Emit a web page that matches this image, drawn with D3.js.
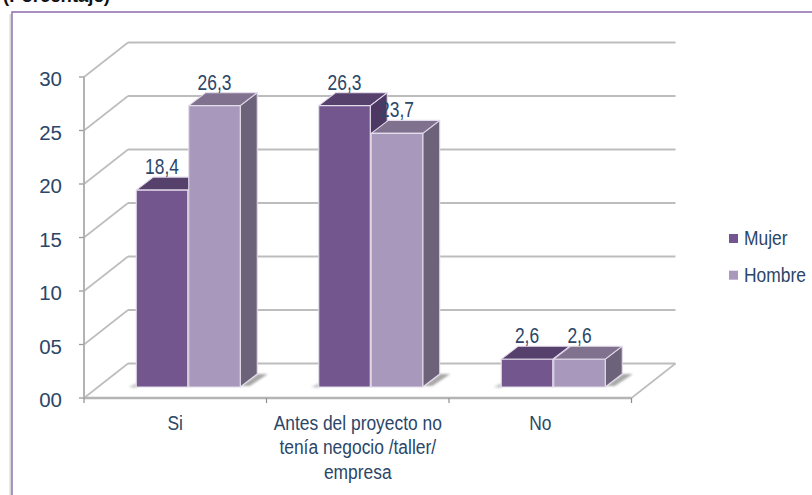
<!DOCTYPE html>
<html><head><meta charset="utf-8"><script src="https://cdn.jsdelivr.net/npm/d3@7"></script>
<style>html,body{margin:0;background:#fff}svg{display:block}</style></head><body>
<svg id="c" width="812" height="495"></svg>
<script>
const categories=[["Si"],["Antes del proyecto no","tenía negocio /taller/","empresa"],["No"]];
const catKeys=["Si","Antes","No"];
const seriesNames=["Mujer","Hombre"];
const mujer=[18.4,26.3,2.6];
const hombre=[26.3,23.7,2.6];
const yTicks=[0,5,10,15,20,25,30];
const yLabels=["00","05","10","15","20","25","30"];
const front=["#73568e","#a898bc"],top_=["#573f6c","#80728f"],side=["#4d3763","#6c627a"];
const textCol="#2b4668",sans="'Liberation Sans',Arial,sans-serif";
const svg=d3.select("#c");
const defs=svg.append("defs");
defs.append("filter").attr("id","soft").append("feGaussianBlur").attr("stdDeviation",0.45);
defs.append("filter").attr("id","sh").append("feGaussianBlur").attr("stdDeviation",1.2);
const y=d3.scaleLinear().domain([0,30]).range([398,77]);
const x=d3.scaleBand().domain(catKeys).range([84,631.5]);
const backDx=44,backDy=-34.5;
const barW=51.5,barDx=17,barDy=-13,baseLift=11,groupShift=13;
// horizontally condensed text helper
function label(px,py,str,size,sx,anchor){
  return svg.append("text").attr("transform",`translate(${px},${py}) scale(${sx},1)`).attr("text-anchor",anchor||"middle")
    .attr("font-family",sans).attr("font-size",size).attr("fill",textCol).text(str);
}
// title + frame
svg.append("text").attr("x",3).attr("y",2).attr("font-family",sans).attr("font-weight","bold").attr("font-size",18.5).attr("fill","#111").text("(Porcentaje)");
svg.append("path").attr("d","M10.5 495V14").attr("stroke","#d8d8d8").attr("stroke-width",2).attr("fill","none");
svg.append("path").attr("d","M12 495V12H812").attr("stroke","#8a6cab").attr("stroke-width",1.4).attr("fill","none");
const g=svg.append("g").attr("filter","url(#soft)");
const grid="#bdbdbd";
// walls
yTicks.forEach(t=>{
  const yy=y(t);
  g.append("line").attr("x1",x.range()[0]).attr("y1",yy).attr("x2",x.range()[0]+backDx).attr("y2",yy+backDy).attr("stroke",grid).attr("stroke-width",1.6);
  g.append("line").attr("x1",x.range()[0]+backDx).attr("y1",yy+backDy).attr("x2",x.range()[1]+backDx).attr("y2",yy+backDy).attr("stroke",grid).attr("stroke-width",2);
  g.append("line").attr("x1",x.range()[0]-5).attr("y1",yy).attr("x2",x.range()[0]).attr("y2",yy).attr("stroke","#9a9a9a").attr("stroke-width",1.3);
});
g.append("line").attr("x1",x.range()[1]).attr("y1",y(0)).attr("x2",x.range()[1]+backDx).attr("y2",y(0)+backDy).attr("stroke",grid).attr("stroke-width",1.6);
g.append("line").attr("x1",x.range()[0]).attr("y1",y(30)).attr("x2",x.range()[0]).attr("y2",y(0)).attr("stroke","#ababab").attr("stroke-width",1.8);
g.append("line").attr("x1",x.range()[0]).attr("y1",y(0)).attr("x2",x.range()[1]).attr("y2",y(0)).attr("stroke","#b4b4b4").attr("stroke-width",2.4);
[...catKeys.map(k=>x(k)),x.range()[1]].forEach(v=>g.append("line").attr("x1",v).attr("x2",v).attr("y1",y(0)).attr("y2",y(0)+5).attr("stroke","#8f8f8f").attr("stroke-width",1.2));
// bars
const base=y(0)-baseLift;
const shadows=g.append("g").attr("filter","url(#sh)");
catKeys.forEach((k,i)=>{
  const cx=x(k)+x.bandwidth()/2+groupShift;
  shadows.append("path").attr("fill","#a8a8a8").attr("d",`M${cx+barW+1} ${base-1}L${cx+barW+barDx+1} ${base-13}H${cx+barW+28}L${cx+barW+10} ${base-1}Z`);
  shadows.append("path").attr("fill","#c8c8c8").attr("d",`M${cx-barW-8} ${base}L${cx-barW} ${base-4}V${base+1}Z`);
  [mujer[i],hombre[i]].forEach((v,s)=>{
    const x0=cx+(s?0.5:-barW-0.5),t=y(v)-baseLift;
    const b=g.append("g").attr("stroke","#e3dcea").attr("stroke-width",1.1).attr("stroke-linejoin","round");
    b.append("path").attr("fill",side[s]).attr("d",`M${x0+barW} ${t}L${x0+barW+barDx} ${t+barDy}V${base+barDy}L${x0+barW} ${base}Z`);
    b.append("path").attr("fill",top_[s]).attr("d",`M${x0} ${t}L${x0+barDx} ${t+barDy}H${x0+barW+barDx}L${x0+barW} ${t}Z`);
    b.append("rect").attr("fill",front[s]).attr("x",x0).attr("y",t).attr("width",barW).attr("height",base-t);
  });
});
// y labels
yTicks.forEach((t,i)=>label(62,y(t)+9.3,yLabels[i],19.5,1.05,"end"));
// data labels
catKeys.forEach((k,i)=>{
  const cx=x(k)+x.bandwidth()/2+groupShift;
  [mujer[i],hombre[i]].forEach((v,s)=>{
    label(cx+(s?barW/2+0.5:-barW/2-0.5),y(v)-baseLift-16,String(v).replace(".",","),22,0.79);
  });
});
// category labels
catKeys.forEach((k,i)=>{
  const cx=x(k)+x.bandwidth()/2;
  categories[i].forEach((line,j)=>label(cx,429.5+j*24.5,line,20,0.87));
});
// legend
seriesNames.forEach((n,i)=>{
  const ly=238.5+i*36.7;
  svg.append("rect").attr("x",729).attr("y",ly-4.5).attr("width",9).attr("height",9).attr("fill",front[i]);
  label(744,ly+6.5,n,20,0.87,"start");
});
</script></body></html>
